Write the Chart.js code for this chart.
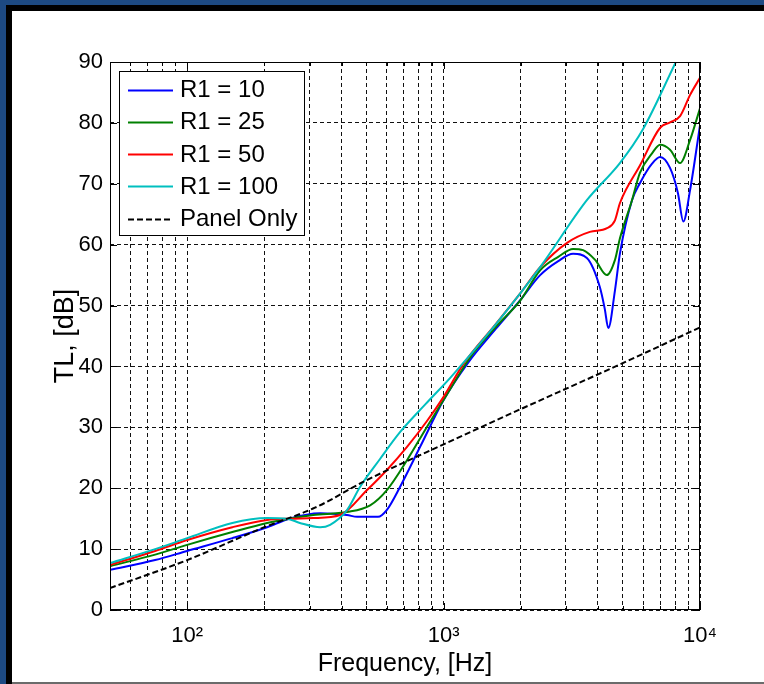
<!DOCTYPE html>
<html>
<head>
<meta charset="utf-8">
<script src="https://cdn.jsdelivr.net/npm/chart.js@4.4.1/dist/chart.umd.min.js"></script>
<style>
  html, body { margin: 0; padding: 0; }
  body { width: 764px; height: 684px; background: #1d4a83; position: relative; overflow: hidden; }
  #frame { position: absolute; left: 6px; top: 5px; right: 0; bottom: 0; background: #000; }
  #paper { position: absolute; left: 12px; top: 11px; right: 0; bottom: 2px; background: #fff; }
  #edge { position: absolute; left: 12px; right: 0; bottom: 0; height: 2px; background: #6b6b6b; }
  canvas { position: absolute; left: 0; top: 0; }
</style>
</head>
<body>
<div id="frame"></div>
<div id="paper"></div>
<div id="edge"></div>
<canvas id="tlChart" width="764" height="684"></canvas>
<script>
// frequencies in Hz, TL in dB
const freqR10 = [50, 75, 100, 150, 205, 250, 330, 420, 460, 555, 600, 676, 810, 1000, 1245, 1600, 1990, 2380, 2800, 3200, 3620, 4070, 4250, 4390, 4660, 4870, 5430, 5830, 6500, 6990, 7640, 8200, 8610, 9150, 10000];
const tlR10   = [6.6, 8.2, 9.7, 11.8, 13.6, 15.0, 15.9, 15.6, 15.3, 15.3, 16.4, 20.2, 26.8, 34.5, 40.6, 46.2, 50.9, 55.0, 57.3, 58.5, 57.8, 53.0, 49.5, 46.3, 52.5, 58.5, 67.3, 70.1, 73.3, 74.4, 72.6, 68.5, 63.8, 69.0, 79.6];

const freqR25 = [50, 75, 100, 150, 205, 250, 310, 420, 517, 601, 720, 862, 1000, 1270, 1600, 1990, 2380, 2800, 3200, 3500, 3900, 4330, 4660, 4870, 5430, 5830, 6500, 6990, 7640, 8360, 9150, 10000];
const tlR25   = [7.2, 9.1, 10.7, 12.8, 14.3, 15.0, 15.6, 16.1, 17.2, 19.7, 24.6, 30.1, 34.5, 41.5, 46.5, 50.8, 55.8, 58.0, 59.3, 59.1, 57.5, 55.0, 57.5, 61.0, 67.3, 71.8, 75.0, 76.4, 75.6, 73.4, 77.2, 82.4];

const freqR50 = [50, 75, 100, 150, 205, 250, 310, 395, 503, 601, 720, 860, 1000, 1190, 1600, 1990, 2380, 3030, 3720, 4340, 4660, 4870, 5830, 6990, 7640, 8360, 9150, 10000];
const tlR50   = [7.4, 9.7, 11.5, 13.6, 14.8, 15.0, 15.1, 15.6, 19.7, 23.0, 26.8, 31.0, 35.0, 40.3, 47.0, 52.0, 56.3, 60.3, 62.1, 62.7, 64.0, 66.8, 73.0, 79.2, 80.1, 81.1, 84.6, 87.4];

const freqR100 = [50, 75, 100, 150, 205, 245, 275, 330, 361, 420, 472, 565, 676, 850, 1070, 1500, 1990, 2380, 3620, 4870, 6000, 8050];
const tlR100   = [7.7, 10.0, 11.8, 14.3, 15.1, 15.0, 14.3, 13.6, 14.0, 16.4, 20.2, 24.8, 29.2, 33.8, 38.3, 45.5, 52.0, 56.3, 67.3, 73.4, 79.0, 90.0];

const freqPanel = [50, 100, 200, 315, 500, 1000, 2000, 4000, 6300, 10000];
const tlPanel   = [3.6, 8.2, 13.6, 16.8, 21.3, 27.2, 33.0, 38.7, 42.5, 46.4];

const seriesLabels = ['R1 = 10', 'R1 = 25', 'R1 = 50', 'R1 = 100', 'Panel Only'];
const seriesColors = ['#0000ff', '#008000', '#ff0000', '#00bfbf', '#000000'];

// grid lines at every 1..9 x decade, labels only on the decades
const gridFreqs = [50, 60, 70, 80, 90, 100, 200, 300, 400, 500, 600, 700, 800, 900, 1000,
                   2000, 3000, 4000, 5000, 6000, 7000, 8000, 9000, 10000];
const decadeFreqs = [100, 1000, 10000];
const decadeLabels = ['10\u00B2', '10\u00B3', '10\u2074'];
const tlTicks = [0, 10, 20, 30, 40, 50, 60, 70, 80, 90];

const FONT = '"Liberation Sans", Arial, sans-serif';

const pts = (fs, vs) => fs.map((f, i) => ({ x: f, y: vs[i] }));

const boxTicks = {
    id: 'boxTicks',
    afterDatasetsDraw: (chart) => {
        const { ctx, chartArea: { left, right, top, bottom }, scales: { x, y } } = chart;
        ctx.save();
        ctx.strokeStyle = '#000';
        ctx.lineWidth = 1;
        ctx.setLineDash([]);
        ctx.beginPath();
        x.ticks.forEach(t => {
            const px = Math.round(x.getPixelForValue(t.value)) + 0.5;
            const len = decadeFreqs.includes(t.value) ? 7 : 4;
            ctx.moveTo(px, bottom); ctx.lineTo(px, bottom - len);
            ctx.moveTo(px, top); ctx.lineTo(px, top + len);
        });
        y.ticks.forEach(t => {
            const py = Math.round(y.getPixelForValue(t.value)) + 0.5;
            ctx.moveTo(left, py); ctx.lineTo(left + 7, py);
            ctx.moveTo(right, py); ctx.lineTo(right - 7, py);
        });
        ctx.stroke();
        ctx.strokeRect(left + 0.5, top + 0.5, right - left - 1, bottom - top - 1);
        ctx.restore();
    }
};

// legend box drawn inside the axes, top-left, like matlab
const boxLegend = {
    id: 'boxLegend',
    afterDraw: (chart) => {
        const { ctx } = chart;
        const bx = 119, by = 71, bw = 185, bh = 164;
        ctx.save();
        ctx.fillStyle = '#fff';
        ctx.fillRect(bx, by, bw, bh);
        ctx.strokeStyle = '#000';
        ctx.lineWidth = 1;
        ctx.strokeRect(bx + 0.5, by + 0.5, bw, bh);
        ctx.font = '24px ' + FONT;
        ctx.textBaseline = 'middle';
        chart.data.datasets.forEach((ds, i) => {
            const cy = by + 18.5 + i * 32.3;
            ctx.strokeStyle = ds.borderColor;
            ctx.lineWidth = 2;
            ctx.setLineDash(ds.borderDash || []);
            ctx.beginPath();
            ctx.moveTo(128, Math.round(cy) + 0.5);
            ctx.lineTo(173, Math.round(cy) + 0.5);
            ctx.stroke();
            ctx.fillStyle = '#000';
            ctx.fillText(ds.label, 180, cy + 1);
        });
        ctx.restore();
    }
};

const seriesData = [pts(freqR10, tlR10), pts(freqR25, tlR25), pts(freqR50, tlR50), pts(freqR100, tlR100), pts(freqPanel, tlPanel)];

new Chart(document.getElementById('tlChart').getContext('2d'), {
    type: 'line',
    plugins: [boxTicks, boxLegend],
    data: {
        datasets: seriesData.map((d, i) => ({
            label: seriesLabels[i],
            data: d,
            borderColor: seriesColors[i],
            borderWidth: 2,
            borderDash: i === 4 ? [6, 3] : undefined,
            pointRadius: 0,
            cubicInterpolationMode: 'monotone',
            fill: false,
            order: 4 - i
        }))
    },
    options: {
        responsive: false,
        animation: false,
        devicePixelRatio: 1,
        layout: { padding: { left: 0, right: 64, top: 62, bottom: 0 } },
        plugins: {
            legend: { display: false },
            tooltip: { enabled: false }
        },
        scales: {
            x: {
                type: 'logarithmic',
                min: 50, max: 10000,
                afterBuildTicks: (s) => { s.ticks = gridFreqs.map(v => ({ value: v })); },
                afterFit: (s) => { s.height = 74; },
                grid: { color: '#111', lineWidth: 1, drawTicks: false },
                border: { display: false, dash: [4, 3] },
                ticks: {
                    autoSkip: false, maxRotation: 0, padding: 13,
                    color: '#000', font: { family: FONT, size: 22 },
                    callback: (v) => {
                        const k = decadeFreqs.indexOf(v);
                        return k >= 0 ? decadeLabels[k] : '';
                    }
                },
                title: {
                    display: true, text: 'Frequency, [Hz]', color: '#000',
                    font: { family: FONT, size: 25 }, padding: { top: 0, bottom: 5 }
                }
            },
            y: {
                min: 0, max: 90,
                afterBuildTicks: (s) => { s.ticks = tlTicks.map(v => ({ value: v })); },
                afterFit: (s) => { s.width = 110; },
                grid: { color: '#111', lineWidth: 1, drawTicks: false },
                border: { display: false, dash: [4, 3] },
                ticks: { padding: 7, color: '#000', font: { family: FONT, size: 22 } },
                title: {
                    display: true, text: 'TL, [dB]', color: '#000',
                    font: { family: FONT, size: 27 }, padding: { top: 49, bottom: 0 }
                }
            }
        }
    }
});
</script>
</body>
</html>
